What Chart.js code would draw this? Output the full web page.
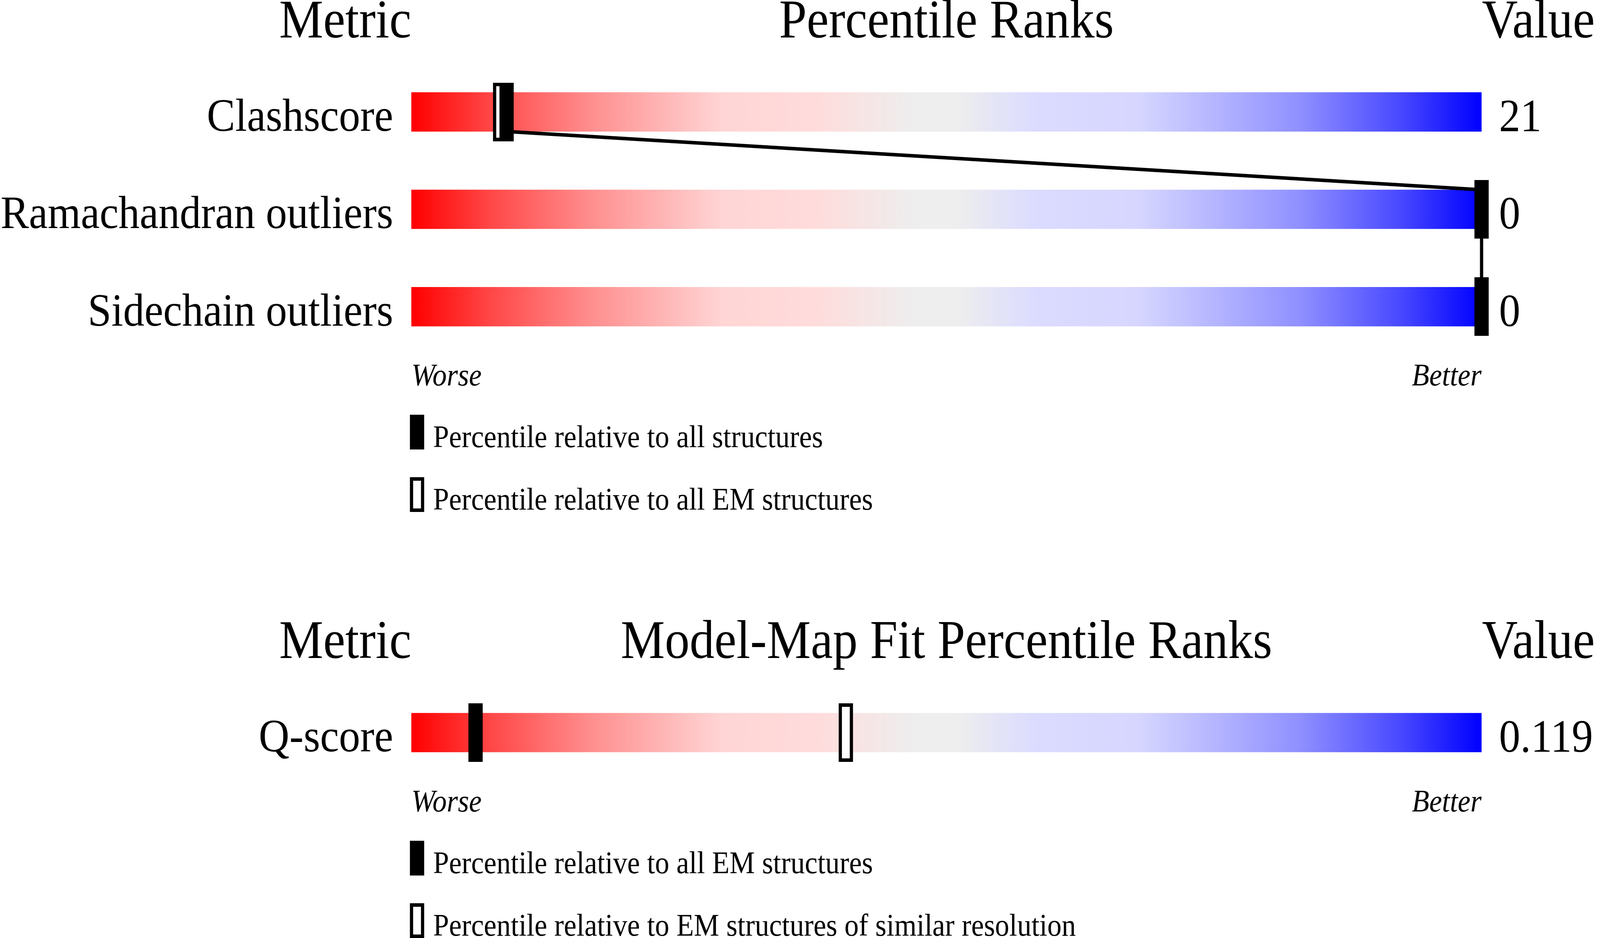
<!DOCTYPE html>
<html>
<head>
<meta charset="utf-8">
<script src="https://cdn.jsdelivr.net/npm/chart.js@4.4.1/dist/chart.umd.min.js"></script>
<style>
  html, body { margin: 0; padding: 0; background: #ffffff; overflow: hidden; }
  #wrap { position: relative; width: 4485px; height: 2402px; overflow: hidden; background: #ffffff; }
  canvas { display: block; }
</style>
</head>
<body>
<div id="wrap">
  <canvas id="validation" width="4485" height="1330"></canvas>
  <canvas id="mapfit" width="4485" height="1072"></canvas>
</div>
<script>
// ---------------- data ----------------
const validationHeaders = ['Metric', 'Percentile Ranks', 'Value'];
const validationMetrics = ['Clashscore', 'Ramachandran outliers', 'Sidechain outliers'];
const validationValues = ['21', '0', '0'];
const validationTrack = [100, 100, 100];
const pctAllStructures = [8.9, 100, 100];
const pctAllEMStructures = [8.3, 100, 100];
const validationLegend = ['Percentile relative to all structures', 'Percentile relative to all EM structures'];

const fitHeaders = ['Metric', 'Model-Map Fit Percentile Ranks', 'Value'];
const fitMetrics = ['Q-score'];
const fitValues = ['0.119'];
const fitTrack = [100];
const pctAllEMFit = [6.0];
const pctSimilarResolution = [40.6];
const fitLegend = ['Percentile relative to all EM structures', 'Percentile relative to EM structures of similar resolution'];

const axisEndLabels = ['Worse', 'Better'];

// ---------------- fit the design (4485 x 2402 units) to the viewport ----------------
const DESIGN_W = 4485, DESIGN_H = 2402;
const SX = (window.innerWidth > 0) ? window.innerWidth / DESIGN_W : 1;
const SY = (window.innerHeight > 0) ? window.innerHeight / DESIGN_H : 1;
const wrap = document.getElementById('wrap');
wrap.style.width = (DESIGN_W * SX) + 'px';
wrap.style.height = (DESIGN_H * SY) + 'px';
document.querySelectorAll('canvas').forEach(c => {
  c.style.width = (c.width * SX) + 'px';
  c.style.height = (c.height * SY) + 'px';
});

// ---------------- styles ----------------
const SERIF = 'Liberation Serif';
const gradientStops = [
  [0.000, '#ff0000'], [0.075, '#ff4848'], [0.170, '#ff9090'], [0.290, '#ffd5d5'],
  [0.380, '#ffdcdc'], [0.470, '#eeeeee'], [0.510, '#eeeeee'], [0.580, '#dcdcff'],
  [0.680, '#d6d6ff'], [0.830, '#9090ff'], [0.925, '#4848ff'], [1.000, '#0000ff']
];

function makeMarker(hollow) {
  const c = document.createElement('canvas');
  c.width = 40; c.height = 150;
  const g = c.getContext('2d');
  g.fillStyle = '#000000';
  g.fillRect(0, 0, 40, 150);
  if (hollow) { g.fillStyle = '#ffffff'; g.fillRect(9, 9, 22, 132); }
  return c;
}
const filledMarker = makeMarker(false);
const hollowMarker = makeMarker(true);

function gradientFill(ctx) {
  const chart = ctx.chart;
  const area = chart.chartArea;
  if (!area) return '#eeeeee';
  const g = chart.ctx.createLinearGradient(area.left, 0, area.right, 0);
  gradientStops.forEach(([p, c]) => g.addColorStop(p, c));
  return g;
}

// ---------------- plugins ----------------
const headerPlugin = {
  id: 'headers',
  afterDraw(chart, args, opts) {
    const { ctx, chartArea: a } = chart;
    const t = opts.texts;
    ctx.save();
    ctx.fillStyle = '#000000';
    ctx.font = '139px "' + SERIF + '"';
    ctx.textBaseline = 'alphabetic';
    const y = a.top - 66;
    ctx.textAlign = 'right';  ctx.fillText(t[0], a.left, y);
    ctx.textAlign = 'center'; ctx.fillText(t[1], (a.left + a.right) / 2, y);
    ctx.textAlign = 'left';   ctx.fillText(t[2], a.right + 1, y);
    ctx.restore();
  }
};

const connectorPlugin = {
  id: 'connector',
  afterDatasetDraw(chart, args) {
    if (args.index !== 0) return;
    const di = chart.data.datasets.findIndex(d => d.connect);
    if (di < 0) return;
    const pts = chart.getDatasetMeta(di).data;
    const half = chart.data.datasets[0].barThickness / 2;
    const ctx = chart.ctx;
    ctx.save();
    ctx.strokeStyle = '#000000';
    ctx.lineWidth = 9;
    ctx.beginPath();
    for (let i = 0; i < pts.length - 1; i++) {
      ctx.moveTo(pts[i].x, pts[i].y + half);
      ctx.lineTo(pts[i + 1].x, pts[i + 1].y - half);
    }
    ctx.stroke();
    ctx.restore();
  }
};

const markerLegendPlugin = {
  id: 'markerLegend',
  afterDraw(chart) {
    const { ctx, chartArea: a } = chart;
    const items = ['filled', 'hollow'].map(k => chart.data.datasets.find(d => d.marker === k));
    ctx.save();
    items.forEach((d, k) => {
      const top = a.bottom + 152 + k * 160;
      const x = a.left - 4;
      ctx.fillStyle = '#000000';
      ctx.fillRect(x, top, 40, 89);
      if (d.marker === 'hollow') {
        ctx.fillStyle = '#ffffff';
        ctx.fillRect(x + 9, top + 9, 22, 71);
      }
      ctx.fillStyle = '#000000';
      ctx.font = '80px "' + SERIF + '"';
      ctx.textAlign = 'left';
      ctx.textBaseline = 'alphabetic';
      ctx.fillText(d.label, a.left + 61, a.bottom + 235 + k * 160);
    });
    ctx.restore();
  }
};

// ---------------- chart builder ----------------
function buildChart(id, cfg) {
  const noGrid = { display: false, drawTicks: false };
  const labelFont = { family: SERIF, size: 119 };
  return new Chart(document.getElementById(id), {
    type: 'bar',
    data: {
      labels: cfg.metrics,
      datasets: [
        { type: 'bar', label: 'track', data: cfg.track, backgroundColor: gradientFill,
          borderWidth: 0, barThickness: 100, grouped: false, order: 3 },
        { type: 'line', label: cfg.legend[1], data: cfg.hollow, marker: 'hollow', indexAxis: 'y',
          showLine: false, pointStyle: hollowMarker, pointRadius: 20, pointHoverRadius: 20,
          clip: false, order: 2 },
        { type: 'line', label: cfg.legend[0], data: cfg.filled, marker: 'filled', indexAxis: 'y',
          connect: cfg.connect, showLine: false, pointStyle: filledMarker, pointRadius: 20,
          pointHoverRadius: 20, clip: false, order: 1 }
      ]
    },
    options: {
      indexAxis: 'y',
      responsive: false,
      devicePixelRatio: 1,
      animation: false,
      events: [],
      layout: { padding: { top: cfg.padTop, bottom: cfg.padBottom, left: 0, right: 0 } },
      plugins: {
        legend: { display: false },
        tooltip: { enabled: false },
        headers: { texts: cfg.headers }
      },
      scales: {
        x: {
          type: 'linear', min: 0, max: 100, position: 'bottom',
          grid: noGrid, border: { display: false },
          afterBuildTicks: s => { s.ticks = [{ value: 0 }, { value: 100 }]; },
          afterFit: s => { s.height = 120; },
          ticks: {
            callback: (v, i) => axisEndLabels[i],
            align: 'inner', padding: 8, maxRotation: 0, minRotation: 0, autoSkip: false,
            color: '#000000', font: { family: SERIF, size: 80, style: 'italic' }
          }
        },
        y: {
          type: 'category', labels: cfg.metrics, position: 'left', offset: true,
          grid: noGrid, border: { display: false },
          afterFit: s => { s.width = 1153; },
          ticks: { padding: 51, labelOffset: 17, autoSkip: false, color: '#000000', font: labelFont }
        },
        y2: {
          type: 'category', labels: cfg.values, position: 'right', offset: true,
          grid: noGrid, border: { display: false },
          afterFit: s => { s.width = 332; },
          ticks: { padding: 49, labelOffset: 18, autoSkip: false, color: '#000000', font: labelFont }
        }
      }
    },
    plugins: [headerPlugin, connectorPlugin, markerLegendPlugin]
  });
}

buildChart('validation', {
  headers: validationHeaders, metrics: validationMetrics, values: validationValues,
  track: validationTrack, filled: pctAllStructures, hollow: pctAllEMStructures,
  legend: validationLegend, connect: true, padTop: 162, padBottom: 300
});

buildChart('mapfit', {
  headers: fitHeaders, metrics: fitMetrics, values: fitValues,
  track: fitTrack, filled: pctAllEMFit, hollow: pctSimilarResolution,
  legend: fitLegend, connect: false, padTop: 421, padBottom: 281
});
</script>
</body>
</html>
